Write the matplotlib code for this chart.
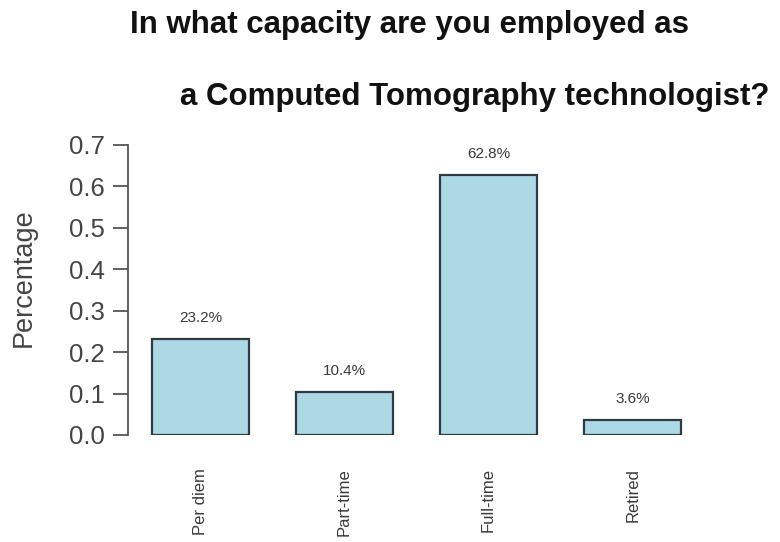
import matplotlib
matplotlib.use("Agg")
import matplotlib.pyplot as plt

plt.rcParams['font.family'] = ['Liberation Sans', 'DejaVu Sans']

categories = ["Per diem", "Part-time", "Full-time", "Retired"]
shares = [0.232, 0.104, 0.628, 0.036]
bar_labels = ["23.2%", "10.4%", "62.8%", "3.6%"]
yticks = [0.0, 0.1, 0.2, 0.3, 0.4, 0.5, 0.6, 0.7]

W, H = 780, 542
fig = plt.figure(figsize=(W / 100, H / 100), dpi=100)

# axes placed in pixel terms to mimic the R base-graphics layout
left_px, right_px, top_px, bottom_px = 128, 720, 145, 435
ax = fig.add_axes([left_px / W, 1 - bottom_px / H,
                   (right_px - left_px) / W, (bottom_px - top_px) / H])

x = range(len(categories))
ax.bar(x, shares, width=0.67, color="#add8e6", edgecolor="#2f3b40", linewidth=1.6)

for xi, v, lab in zip(x, shares, bar_labels):
    ax.text(xi, v + 0.033, lab, ha="center", va="bottom", fontsize=11, color="#3a3a3a")

ax.set_xlim(-0.503, 3.606)
ax.set_ylim(0, 0.7)
ax.set_yticks(yticks)
ax.set_yticklabels([f"{t:.1f}" for t in yticks], fontsize=18.5, color="#444444")
ax.tick_params(axis="y", length=10.5, width=1.3, color="#555555", pad=6)
ax.set_xticks(list(x))
ax.set_xticklabels(categories, rotation=90, fontsize=12, color="#3a3a3a", va="top")
ax.tick_params(axis="x", length=0, pad=24)

for s in ["top", "right", "bottom"]:
    ax.spines[s].set_visible(False)
ax.spines["left"].set_color("#555555")
ax.spines["left"].set_linewidth(1.3)

fig.text(24 / W, 1 - 278 / H, "Percentage", rotation=90, ha="center", va="center",
         fontsize=19.5, color="#444444")

fig.text(410 / W, 1 - 25 / H, "In what capacity are you employed as", ha="center",
         va="center", fontsize=22.5, fontweight="bold", color="#111111")
fig.text(475 / W, 1 - 97 / H, "a Computed Tomography technologist?", ha="center",
         va="center", fontsize=22.5, fontweight="bold", color="#111111")

fig.savefig("out.png", dpi=100)
